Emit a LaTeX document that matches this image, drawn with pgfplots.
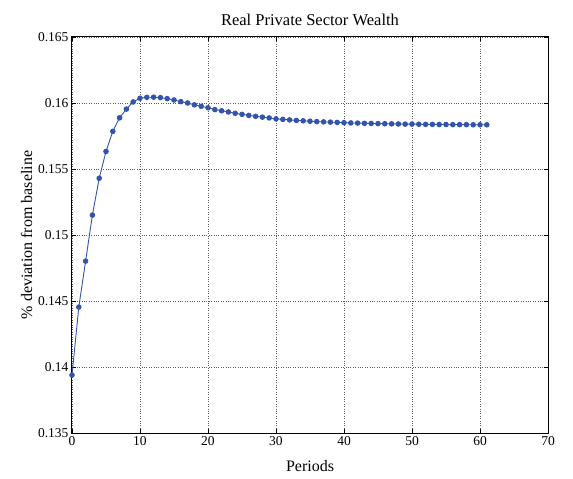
\documentclass[border=0pt]{standalone}
\usepackage{pgfplots}
\pgfplotsset{compat=1.18}
\usepackage{fontspec}
\setmainfont{Liberation Serif}
\definecolor{mblue}{RGB}{52,84,172}
\begin{document}
\begin{tikzpicture}
\path[use as bounding box] (-72pt,-46pt) rectangle (501pt,433pt);
\begin{axis}[
    at={(0pt,0pt)}, anchor=south west,
    scale only axis,
    width=476pt, height=396pt,
    xmin=0, xmax=70, ymin=0.135, ymax=0.165,
    xtick={0,10,...,70},
    ytick={0.135,0.14,0.145,0.15,0.155,0.16,0.165},
    yticklabels={0.135,0.14,0.145,0.15,0.155,0.16,0.165},
    /pgf/number format/assume math mode=true,
    tick label style={font=\fontsize{13.5}{13.5}\selectfont},
    yticklabel style={xshift=0pt},
    tick align=inside,
    tick style={black, line width=0.6pt},
    major tick length=4pt,
    axis line style={black, line width=1pt},
    grid=major,
    major grid style={dotted, gray!70!black, line width=0.6pt},
    title={Real Private Sector Wealth},
    title style={font=\fontsize{16.5}{16.5}\selectfont, yshift=2pt},
    xlabel={Periods},
    xlabel style={font=\fontsize{16}{16}\selectfont, yshift=-8pt},
    ylabel={\% deviation from baseline},
    ylabel style={font=\fontsize{16}{16}\selectfont, yshift=-1pt},
]
\addplot[color=mblue, line width=0.9pt, mark=*, mark size=2.3pt, mark options={fill=mblue, draw=mblue}] coordinates {
(0,0.13939) (1,0.14454) (2,0.14802) (3,0.15151) (4,0.15430) (5,0.15633)
(6,0.15785) (7,0.15888) (8,0.15954) (9,0.16008) (10,0.16036) (11,0.16043)
(12,0.16044) (13,0.16041) (14,0.16033) (15,0.16023) (16,0.16010) (17,0.16000)
(18,0.15986) (19,0.15975) (20,0.15964) (21,0.15950) (22,0.15941) (23,0.15932)
(24,0.15922) (25,0.15914) (26,0.15906) (27,0.15899) (28,0.15893) (29,0.15887)
(30,0.15880) (31,0.15876) (32,0.15872) (33,0.15868) (34,0.15865) (35,0.15862)
(36,0.15859) (37,0.15857) (38,0.15855) (39,0.15853) (40,0.15851) (41,0.15849)
(42,0.15848) (43,0.15846) (44,0.15845) (45,0.15844) (46,0.15843) (47,0.15842)
(48,0.15841) (49,0.15840) (50,0.15840) (51,0.15839) (52,0.15838) (53,0.15838)
(54,0.15837) (55,0.15837) (56,0.15836) (57,0.15836) (58,0.15836) (59,0.15835)
(60,0.15835) (61,0.15835)
};
\end{axis}
\end{tikzpicture}
\end{document}
